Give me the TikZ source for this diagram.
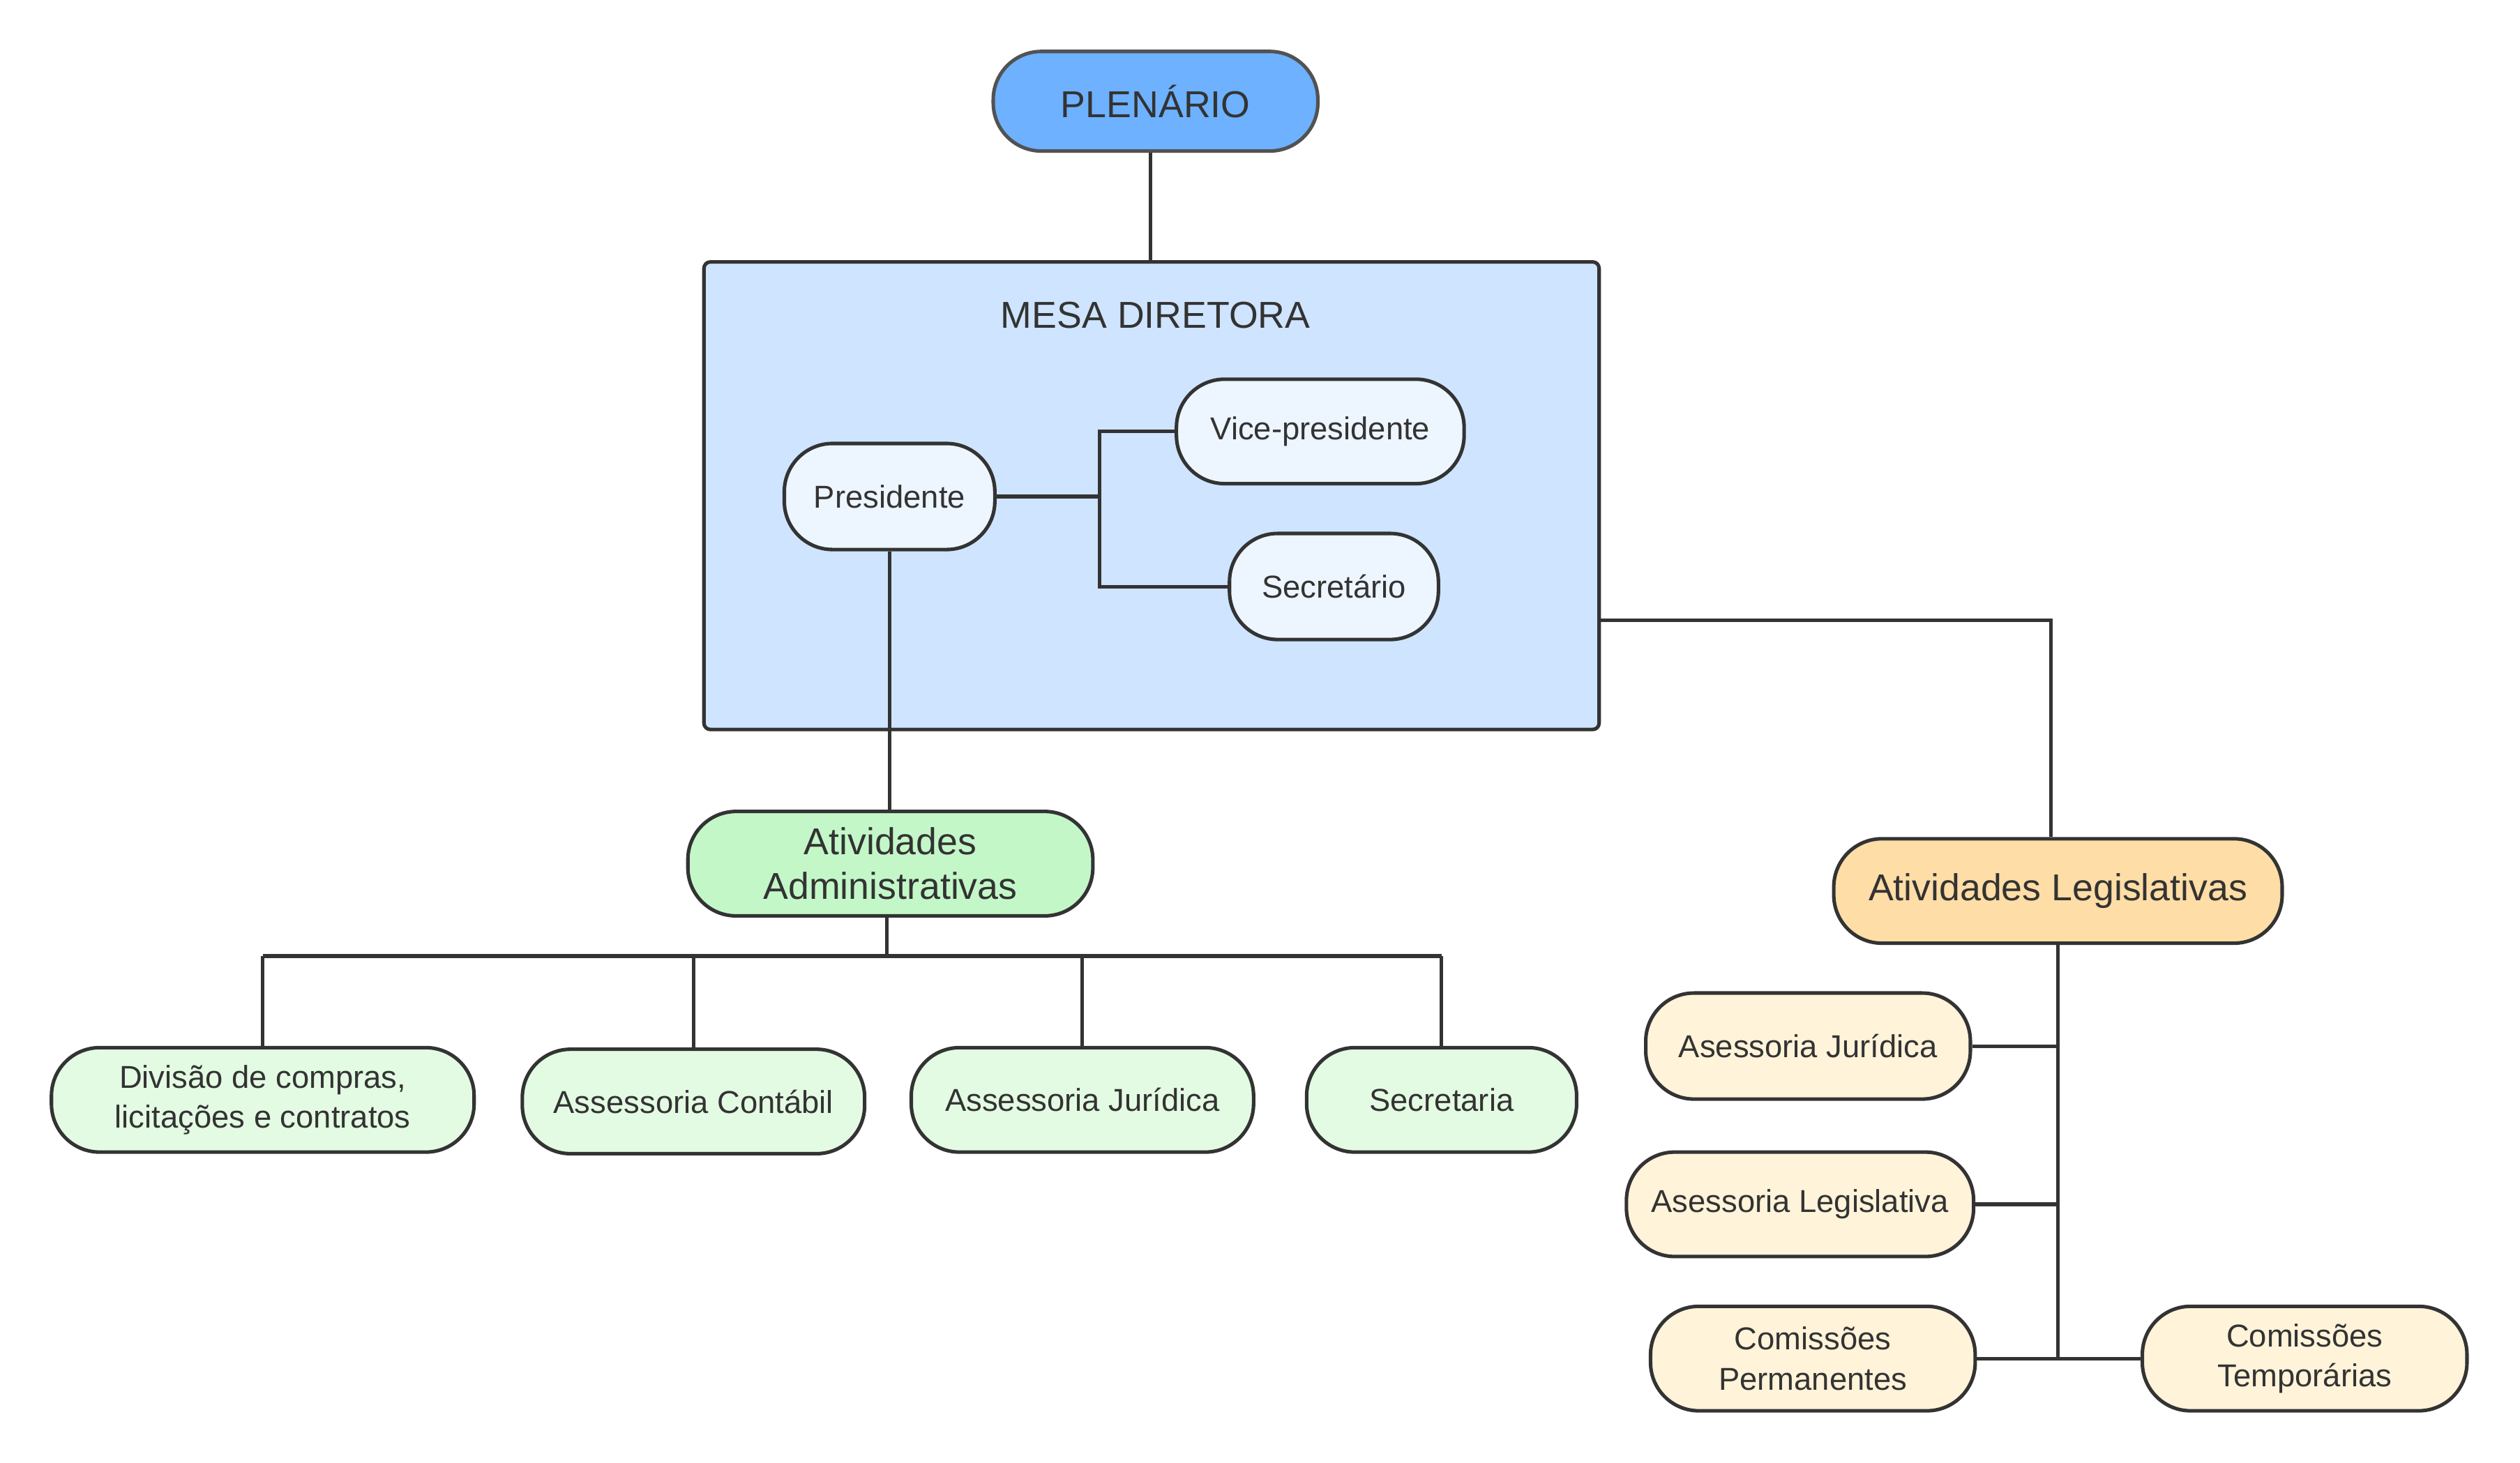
\documentclass[tikz,border=0pt]{standalone}
\usepackage{fontspec}
\setmainfont{Liberation Sans}
\definecolor{linha}{HTML}{333333}
\definecolor{azulforte}{HTML}{6DB1FF}
\definecolor{azulmesa}{HTML}{CFE4FF}
\definecolor{azulclaro}{HTML}{EDF5FF}
\definecolor{verde}{HTML}{C3F7C8}
\definecolor{verdeclaro}{HTML}{E3FAE3}
\definecolor{laranja}{HTML}{FFDDA6}
\definecolor{creme}{HTML}{FFF3D9}

\begin{document}
\begin{tikzpicture}[x=1pt,y=-1pt,
    caixa/.style={draw=linha,line width=2.2pt,rounded corners=30pt,text=linha,
      align=center,inner sep=0pt,minimum height=65pt},
    grande/.style={font=\fontsize{23.3}{28}\selectfont},
    pequeno/.style={font=\fontsize{19.7}{25}\selectfont},
    liga/.style={draw=linha,line width=2.2pt}]
    \useasboundingbox (0,0) rectangle (1568,910.5) ;
    %% topo
    \node[caixa,grande,fill=azulforte,draw=linha!85,minimum width=202pt,minimum height=62pt]
      (plenario) at (719,63) {PLENÁRIO} ;
    \node[draw=linha,line width=2.2pt,fill=azulmesa,rounded corners=4pt,
      minimum width=557pt,minimum height=291pt] (mesa) at (716.5,308.5) {} ;
    \node[grande,text=linha] (titulo) at (719,196) {MESA DIRETORA} ;
    %% mesa diretora
    \node[caixa,pequeno,fill=azulclaro,minimum width=131pt,minimum height=66pt]
      (presidente) at (553.5,309) {Presidente} ;
    \node[caixa,pequeno,fill=azulclaro,minimum width=179pt]
      (vice) at (821.5,268.5) {Vice-presidente} ;
    \node[caixa,pequeno,fill=azulclaro,minimum width=130pt,minimum height=66pt]
      (secretario) at (830,365) {Secretário} ;
    \coordinate (juncao) at (684,309) ;
    %% atividades
    \node[caixa,grande,fill=verde,minimum width=252pt] (admin) at (554,537.5)
      {Atividades\\Administrativas} ;
    \node[caixa,grande,fill=laranja,minimum width=279pt] (legis) at (1280.5,554.5)
      {Atividades Legislativas} ;
    %% administrativas
    \node[caixa,pequeno,fill=verdeclaro,minimum width=263pt] (divisao) at (163.5,684.5)
      {Divisão de compras,\\licitações e contratos} ;
    \node[caixa,pequeno,fill=verdeclaro,minimum width=213pt] (contabil) at (431.5,685.5)
      {Assessoria Contábil} ;
    \node[caixa,pequeno,fill=verdeclaro,minimum width=213pt] (juridica) at (673.5,684.5)
      {Assessoria Jurídica} ;
    \node[caixa,pequeno,fill=verdeclaro,minimum width=168pt] (secretaria) at (897,684.5)
      {Secretaria} ;
    \coordinate (barra) at (552,595) ;
    %% legislativas
    \node[caixa,pequeno,fill=creme,minimum width=202pt,minimum height=66pt] (asjur) at (1125,651)
      {Asessoria Jurídica} ;
    \node[caixa,pequeno,fill=creme,minimum width=216pt] (asleg) at (1120,749.5)
      {Asessoria Legislativa} ;
    \node[caixa,pequeno,fill=creme,minimum width=202pt] (permanentes) at (1128,845.5)
      {Comissões\\Permanentes} ;
    \node[caixa,pequeno,fill=creme,minimum width=202pt] (temporarias) at (1434,845.5)
      {Comissões\\Temporárias} ;
    \coordinate (cotovelo) at (1276,386) ;
    %% ligacoes
    \draw[liga] (plenario.south -| 716,0) -- (716,0 |- mesa.north) ;
    \draw[liga] (presidente.east) -- (juncao) ;
    \draw[liga] (vice.west) -| (juncao) |- (secretario.west) ;
    \draw[liga] (presidente.south) -- (presidente.south |- admin.north) ;
    \draw[liga] (mesa.east |- cotovelo) -- (cotovelo) -- (cotovelo |- legis.north) ;
    \draw[liga] (admin.south -| barra) -- (barra) ;
    \draw[liga] (divisao.north |- barra) -- (secretaria.north |- barra) ;
    \foreach \no in {divisao,contabil,juridica,secretaria}
      \draw[liga] (\no.north |- barra) -- (\no.north) ;
    \draw[liga] (legis.south) -- (legis.south |- permanentes) ;
    \foreach \no in {asjur,asleg,permanentes}
      \draw[liga] (\no.east) -- (\no.east -| legis.south) ;
    \draw[liga] (legis.south |- temporarias) -- (temporarias.west) ;
\end{tikzpicture}
\end{document}
